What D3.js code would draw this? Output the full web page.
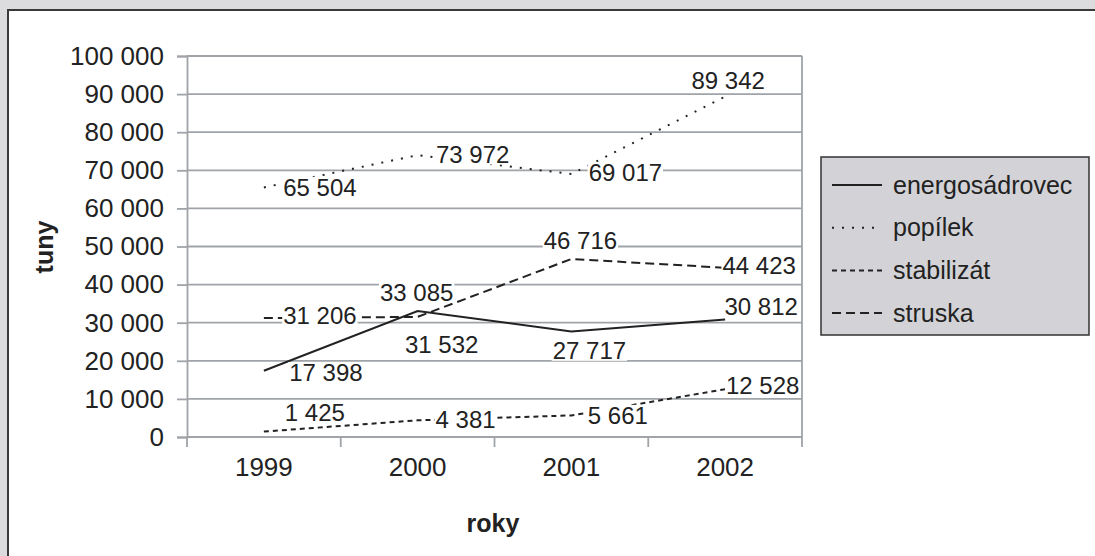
<!DOCTYPE html>
<html>
<head>
<meta charset="utf-8">
<script src="https://cdn.jsdelivr.net/npm/d3@7"></script>
<style>
  body { margin: 0; background: #dcdcde; }
  svg { display: block; font-family: "Liberation Sans", Arial, sans-serif; }
</style>
</head>
<body>
<div id="svgContainer"></div>
<script>
// chart data
var years = ["1999", "2000", "2001", "2002"];
var seriesNames = ["energosádrovec", "popílek", "stabilizát", "struska"];
var energosadrovec = [17398, 33085, 27717, 30812];
var popilek = [65504, 73972, 69017, 89342];
var stabilizat = [1425, 4381, 5661, 12528];
var struska = [31206, 31532, 46716, 44423];
var yTicks = [0, 10000, 20000, 30000, 40000, 50000, 60000, 70000, 80000, 90000, 100000];

// line styles + label offsets (px from the point), per series
var dashes = [null, "2,8", "5,4", "9,5"];
var labelOffsets = [
  [[62, 2], [-1, -18.5], [18, 19], [36, -13.5]],
  [[56, 0], [55, -1], [54, -1.5], [3, -16]],
  [[51, -18.5], [48, -1], [46.5, 0], [37.5, -4]],
  [[56, -2.5], [24, 28], [9, -18], [34, -2]]
];

var width = 1095, height = 556;
var plot = { left: 187, right: 802, top: 56, bottom: 437 };

var series = seriesNames.map(function (name, i) {
  var vals = [energosadrovec, popilek, stabilizat, struska][i];
  return { name: name, dash: dashes[i], values: vals.map(function (v, j) { return { year: years[j], value: v, off: labelOffsets[i][j] }; }) };
});

var locale = d3.formatLocale({ decimal: ",", thousands: " ", grouping: [3], currency: ["", ""] });
var fmt = locale.format(",d");

var svg = d3.select("#svgContainer").append("svg").attr("width", width).attr("height", height);

// white panel with dark border
svg.append("rect").attr("x", 8).attr("y", 10).attr("width", 1200).attr("height", 700)
  .attr("fill", "#fff").attr("stroke", "#3a3a3a").attr("stroke-width", 2);

var x = d3.scalePoint().domain(years).range([plot.left, plot.right]).padding(0.5);
var xBand = d3.scaleBand().domain(years).range([plot.left, plot.right]);
var y = d3.scaleLinear().domain([0, 100000]).range([plot.bottom, plot.top]);

var grid = "#a0a4a8";

// gridlines
svg.append("g").selectAll("line").data(yTicks.filter(function (d) { return d > 0; })).enter().append("line")
  .attr("x1", plot.left).attr("x2", plot.right)
  .attr("y1", function (d) { return y(d); }).attr("y2", function (d) { return y(d); })
  .attr("stroke", grid).attr("stroke-width", 1.8);
// right border of plot
svg.append("line").attr("x1", plot.right).attr("x2", plot.right).attr("y1", plot.top).attr("y2", plot.bottom)
  .attr("stroke", grid).attr("stroke-width", 1.8);

// y axis
var yAxis = svg.append("g").attr("transform", "translate(" + plot.left + ",0)")
  .call(d3.axisLeft(y).tickValues(yTicks).tickFormat(fmt).tickSize(10).tickPadding(13));
yAxis.select(".domain").attr("stroke", grid).attr("stroke-width", 1.8);
yAxis.selectAll(".tick line").attr("stroke", grid).attr("stroke-width", 1.8);
yAxis.selectAll("text").attr("font-size", 26).attr("fill", "#222").attr("font-family", null);

// x axis, ticks on band edges
var xAxis = svg.append("g").attr("transform", "translate(0," + plot.bottom + ")");
xAxis.append("line").attr("x1", plot.left).attr("x2", plot.right).attr("stroke", grid).attr("stroke-width", 1.8);
var edges = years.map(function (d) { return xBand(d); }).concat([plot.right]);
xAxis.selectAll("line.tk").data(edges).enter().append("line").attr("class", "tk")
  .attr("x1", function (d) { return d; }).attr("x2", function (d) { return d; })
  .attr("y1", 0).attr("y2", 10).attr("stroke", grid).attr("stroke-width", 1.8);
xAxis.selectAll("text").data(years).enter().append("text")
  .attr("x", function (d) { return x(d); }).attr("y", 39)
  .attr("text-anchor", "middle").attr("font-size", 26).attr("fill", "#222")
  .text(function (d) { return d; });

// axis titles
svg.append("text").attr("transform", "translate(53,247) rotate(-90)")
  .attr("text-anchor", "middle").attr("font-size", 25).attr("font-weight", "bold").attr("fill", "#222").text("tuny");
svg.append("text").attr("x", 493).attr("y", 532)
  .attr("text-anchor", "middle").attr("font-size", 25).attr("font-weight", "bold").attr("fill", "#222").text("roky");

// series lines
var line = d3.line().x(function (d) { return x(d.year); }).y(function (d) { return y(d.value); });
svg.append("g").selectAll("path").data(series).enter().append("path")
  .attr("d", function (d) { return line(d.values); })
  .attr("fill", "none").attr("stroke", "#222").attr("stroke-width", 2)
  .attr("stroke-dasharray", function (d) { return d.dash; });

// data labels with white background
var labels = svg.append("g").selectAll("g").data(series.flatMap(function (s) { return s.values; })).enter().append("g")
  .attr("transform", function (d) { return "translate(" + (x(d.year) + d.off[0]) + "," + (y(d.value) + d.off[1]) + ")"; });
labels.append("rect").attr("fill", "#fff");
labels.append("text").attr("text-anchor", "middle").attr("dy", "0.35em")
  .attr("font-size", 24).attr("fill", "#222").text(function (d) { return fmt(d.value); });
labels.each(function () {
  var g = d3.select(this), b = g.select("text").node().getBBox();
  g.select("rect").attr("x", b.x - 1).attr("y", b.y + 3).attr("width", b.width + 2).attr("height", b.height - 6);
});

// legend
var legend = svg.append("g").attr("transform", "translate(821,157)");
legend.append("rect").attr("width", 268).attr("height", 178)
  .attr("fill", "#d3d3d7").attr("stroke", "#333").attr("stroke-width", 1.5);
var items = legend.selectAll("g").data(series).enter().append("g")
  .attr("transform", function (d, i) { return "translate(0," + (28 + i * 42.7) + ")"; });
items.append("line").attr("x1", 11).attr("x2", 61)
  .attr("stroke", "#222").attr("stroke-width", 2)
  .attr("stroke-dasharray", function (d) { return d.dash; });
items.append("text").attr("x", 72).attr("dy", "0.35em").attr("font-size", 25).attr("fill", "#222")
  .text(function (d) { return d.name; });
</script>
</body>
</html>
